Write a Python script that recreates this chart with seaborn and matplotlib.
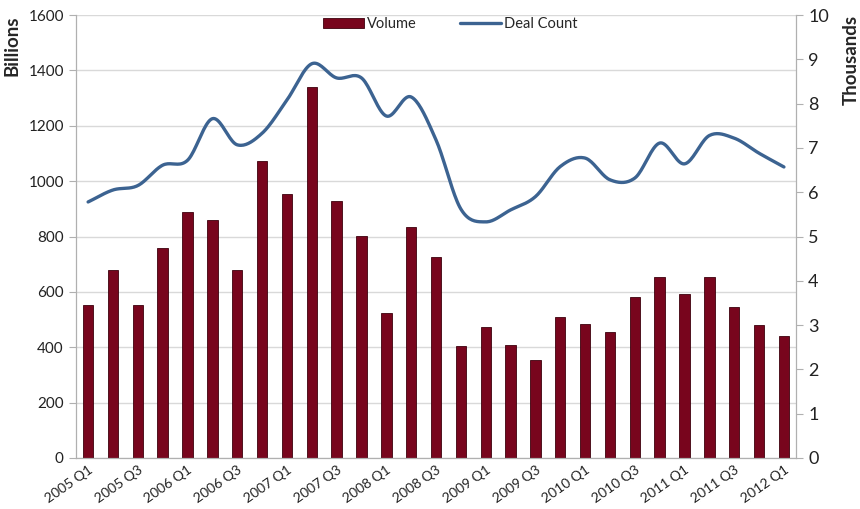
import numpy as np
import pandas as pd
import matplotlib
matplotlib.use('Agg')
import matplotlib.pyplot as plt
import seaborn as sns
from matplotlib.patches import Patch
from matplotlib.lines import Line2D

# --- data ---
quarters = [f"{y} Q{q}" for y in range(2005, 2012) for q in range(1, 5)] + ["2012 Q1"]
volume_bn = [553, 679, 553, 758, 888, 860, 679, 1072, 953, 1340, 928, 802, 524, 834,
             726, 404, 473, 408, 354, 509, 484, 455, 581, 654, 592, 654, 545, 480, 441]
deal_count_k = [5.78, 6.05, 6.15, 6.61, 6.72, 7.66, 7.07, 7.33, 8.08, 8.90, 8.58, 8.58,
                7.72, 8.15, 7.18, 5.62, 5.33, 5.60, 5.90, 6.58, 6.77, 6.28, 6.32, 7.11,
                6.64, 7.28, 7.22, 6.88, 6.57]

bar_color = '#78051D'
line_color = '#3C6391'

sns.set_style('white')
plt.rcParams['font.family'] = ['Lato', 'DejaVu Sans']

df = pd.DataFrame({'Quarter': quarters, 'Volume': volume_bn})


# smooth the deal count curve like Excel's "smoothed line" (Catmull-Rom)
def catmull_rom(y, steps=20):
    y = np.asarray(y, dtype=float)
    p = np.concatenate([[2 * y[0] - y[1]], y, [2 * y[-1] - y[-2]]])
    xs, ys = [], []
    for i in range(len(y) - 1):
        t = np.linspace(0, 1, steps, endpoint=False)
        p0, p1, p2, p3 = p[i], p[i + 1], p[i + 2], p[i + 3]
        seg = 0.5 * ((2 * p1) + (-p0 + p2) * t + (2 * p0 - 5 * p1 + 4 * p2 - p3) * t ** 2
                     + (-p0 + 3 * p1 - 3 * p2 + p3) * t ** 3)
        xs.append(i + t)
        ys.append(seg)
    xs.append([len(y) - 1])
    ys.append([y[-1]])
    return np.concatenate(xs), np.concatenate(ys)


sx, sy = catmull_rom(deal_count_k)
smooth = pd.DataFrame({'x': sx, 'Deal Count': sy})

fig = plt.figure(figsize=(8.6, 5.09), dpi=100)
ax = fig.add_axes([0.088, 0.1002, 0.838, 0.8703])

sns.barplot(data=df, x='Quarter', y='Volume', color=bar_color, width=0.42,
            edgecolor='#3d000d', linewidth=0.6, saturation=1, ax=ax, zorder=2)

ax2 = ax.twinx()
sns.lineplot(data=smooth, x='x', y='Deal Count', color=line_color, linewidth=2.4,
             ax=ax2, zorder=3)

# left axis
ax.set_xlim(-0.5, len(quarters) - 0.5)
ax.set_ylim(0, 1600)
ax.set_yticks(range(0, 1601, 200))
ax.yaxis.grid(True, color='#d9d9d9', linewidth=1)
ax.set_axisbelow(True)
ax.set_ylabel('Billions', fontsize=13.5, fontweight='bold', loc='top', labelpad=6)
ax.set_xlabel('')

# x ticks: every other quarter labelled, tick marks between categories
ax.set_xticks(range(0, len(quarters), 2))
ax.set_xticklabels(quarters[::2], rotation=35, ha='right', rotation_mode='anchor',
                   fontsize=10, color='#222222')
ax.set_xticks(np.arange(-0.5, len(quarters), 1), minor=True)
ax.tick_params(axis='x', which='major', length=0, pad=4)
ax.tick_params(axis='x', which='minor', length=5, color='#b0b0b0', width=1)
ax.tick_params(axis='y', length=5, color='#b0b0b0', labelsize=11, labelcolor='#222222')

# right axis
ax2.set_ylim(0, 10)
ax2.set_yticks(range(0, 11))
ax2.set_xlim(-0.5, len(quarters) - 0.5)
ax2.set_ylabel('Thousands', fontsize=13.5, fontweight='bold', rotation=90,
               loc='top', labelpad=10)
ax2.tick_params(axis='y', length=5, color='#b0b0b0', labelsize=13, labelcolor='#222222')
ax2.grid(False)

for a in (ax, ax2):
    a.spines['top'].set_visible(False)
    a.spines['left'].set_color('#b0b0b0')
    a.spines['right'].set_color('#b0b0b0')
    a.spines['bottom'].set_color('#b0b0b0')

handles = [Patch(facecolor=bar_color, edgecolor='#3d000d', linewidth=0.6),
           Line2D([0], [0], color=line_color, linewidth=2.4)]
ax2.legend(handles, ['Volume', 'Deal Count'], loc='upper center', ncol=2,
           frameon=False, fontsize=10.5, bbox_to_anchor=(0.52, 1.025),
           handlelength=2.8, handleheight=0.6, handletextpad=0.2, columnspacing=3)

plt.savefig('out.png', dpi=100)
